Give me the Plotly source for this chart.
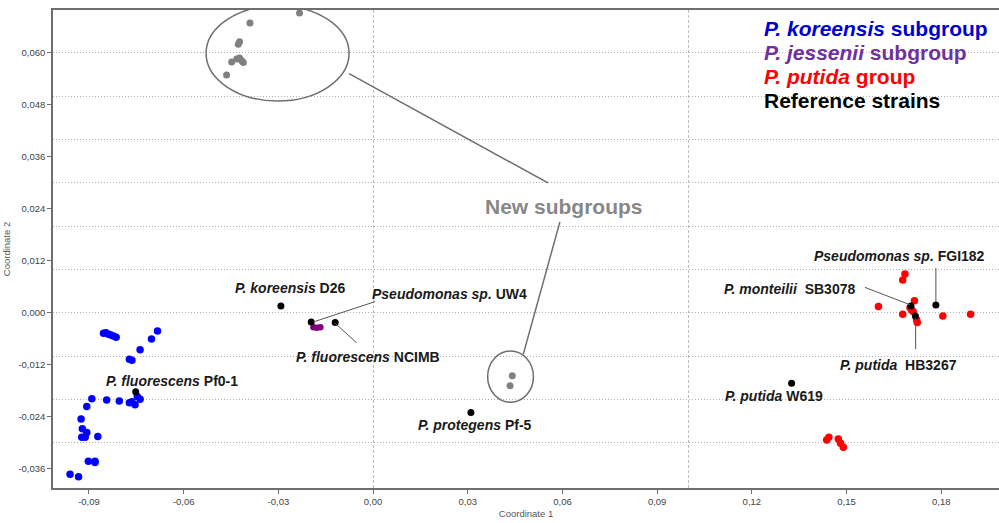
import plotly.graph_objects as go

# ---- PCoA coordinates (Coordinate 1, Coordinate 2) ----
koreensis_x = [-0.0854, -0.0846, -0.0838, -0.0831, -0.0823, -0.0814, -0.0683, -0.0702,
               -0.0738, -0.0772, -0.0764, -0.0891, -0.0844, -0.0804, -0.0772, -0.0754,
               -0.0747, -0.0738, -0.0764, -0.0907, -0.0925, -0.0921, -0.0907, -0.0923,
               -0.0912, -0.0872, -0.0902, -0.0881, -0.0881, -0.0960, -0.0933]
koreensis_y = [-0.0047, -0.0046, -0.0049, -0.0051, -0.0053, -0.0056, -0.0042, -0.0060,
               -0.0085, -0.0107, -0.0109, -0.0198, -0.0201, -0.0203, -0.0207, -0.0212,
               -0.0193, -0.0199, -0.0205, -0.0216, -0.0245, -0.0267, -0.0276, -0.0287,
               -0.0287, -0.0285, -0.0342, -0.0342, -0.0345, -0.0372, -0.0378]

jessenii_x = [-0.0189, -0.0178, -0.0167]
jessenii_y = [-0.0033, -0.0034, -0.0033]

putida_x = [0.1685, 0.1678, 0.1601, 0.1715, 0.1701, 0.1706, 0.1711, 0.1678, 0.1722,
            0.1724, 0.1805, 0.1893, 0.1437, 0.1444, 0.1474, 0.1481, 0.1490]
putida_y = [0.0090, 0.0076, 0.0015, 0.0028, 0.0012, 0.0007, 0.0003, -0.0003, -0.0016,
            -0.0022, -0.0007, -0.0003, -0.0293, -0.0287, -0.0291, -0.0301, -0.0310]

new_x = [-0.0233, -0.0390, -0.0423, -0.0427, -0.0432, -0.0423, -0.0416, -0.0411,
         -0.0448, -0.0464, 0.0441, 0.0434]
new_y = [0.0692, 0.0669, 0.0626, 0.0620, 0.0586, 0.0588, 0.0582, 0.0578,
         0.0579, 0.0549, -0.0145, -0.0168]

ref_names = ["D26", "UW4", "NCIMB", "Pf0-1", "Pf-5", "W619", "SB3078", "HB3267", "FGI182"]
ref_x = [-0.0292, -0.0196, -0.0120, -0.0752, 0.0310, 0.1326, 0.1704, 0.1718, 0.1783]
ref_y = [0.0016, -0.0021, -0.0022, -0.0182, -0.0230, -0.0162, 0.0016, -0.0007, 0.0018]

# strain labels: species (italic), separator, strain id, label position
label_species = ["P. koreensis", "Pseudomonas sp.", "P. fluorescens", "P. fluorescens",
                 "P. protegens", "P. putida", "P. monteilii", "P. putida",
                 "Pseudomonas sp."]
label_gap = [" ", " ", " ", " ", " ", " ", "\u00a0 ", "\u00a0 ", " "]
label_strain = ["D26", "UW4", "NCIMB", "Pf0-1", "Pf-5", "W619", "SB3078", "HB3267", "FGI182"]
label_x = [-0.0444, -0.0010, -0.0251, -0.0853, 0.0135, 0.1108, 0.1104, 0.1472, 0.1389]
label_y = [0.0058, 0.0044, -0.0101, -0.0156, -0.0259, -0.0192, 0.0055, -0.0120, 0.0132]

# leader lines from labels to points: (x0, y0, x1, y1)
leaders = [
    (0.0006, 0.0026, -0.0190, -0.0021),   # UW4
    (-0.0120, -0.0024, -0.0052, -0.0069), # NCIMB
    (0.1558, 0.0059, 0.1701, 0.0019),     # SB3078
    (0.1719, -0.0012, 0.1719, -0.0084),   # HB3267
    (0.1783, 0.0104, 0.1783, 0.0025),     # FGI182
]

x_ticks = [-0.09, -0.06, -0.03, 0.00, 0.03, 0.06, 0.09, 0.12, 0.15, 0.18]
x_ticktext = ["-0,09", "-0,06", "-0,03", "0,00", "0,03", "0,06", "0,09", "0,12", "0,15", "0,18"]
y_ticks = [-0.036, -0.024, -0.012, 0.000, 0.012, 0.024, 0.036, 0.048, 0.060]
y_ticktext = ["-0,036", "-0,024", "-0,012", "0,000", "0,012", "0,024", "0,036", "0,048", "0,060"]
y_grid = [-0.03, -0.02, -0.01, 0.0, 0.01, 0.02, 0.03, 0.04, 0.05, 0.06]
x_grid = [0.0, 0.1]

legend_items = [
    ("<i>P. koreensis</i> subgroup", "#0000CC"),
    ("<i>P. jessenii</i> subgroup", "#7030A0"),
    ("<i>P. putida</i> group", "#FF0000"),
    ("Reference strains", "#000000"),
]

FONT = "Liberation Sans, Arial, sans-serif"

fig = go.Figure()

def dots(x, y, color, size):
    fig.add_trace(go.Scatter(x=x, y=y, mode="markers",
                             marker=dict(color=color, size=size, line=dict(width=0)),
                             showlegend=False, hoverinfo="x+y"))

dots(koreensis_x, koreensis_y, "#0000FF", 7.5)
dots(jessenii_x, jessenii_y, "#800080", 6.5)
dots(putida_x, putida_y, "#FF0000", 7.5)
dots(new_x, new_y, "#808080", 7)
dots(ref_x, ref_y, "#000000", 7)

annotations = []
for sp, gap, st, lx, ly in zip(label_species, label_gap, label_strain, label_x, label_y):
    annotations.append(dict(
        x=lx, y=ly, xref="x", yref="y", xanchor="left", yanchor="middle",
        text=f"<b><i>{sp}</i>{gap}{st}</b>",
        showarrow=False, font=dict(family=FONT, size=14, color="#1a1a1a")))

annotations.append(dict(
    x=0.0348, y=0.0245, xref="x", yref="y", xanchor="left", yanchor="middle",
    text="<b>New subgroups</b>", showarrow=False,
    font=dict(family=FONT, size=21, color="#878787")))

legend_y = [0.9603, 0.9121, 0.8619, 0.8117]
for (txt, col), py in zip(legend_items, legend_y):
    annotations.append(dict(
        x=0.7495, y=py, xref="paper", yref="paper", xanchor="left", yanchor="middle",
        text=f"<b>{txt}</b>", showarrow=False,
        font=dict(family=FONT, size=21, color=col)))

shapes = []
for x0, y0, x1, y1 in leaders:
    shapes.append(dict(type="line", xref="x", yref="y", x0=x0, y0=y0, x1=x1, y1=y1,
                       line=dict(color="#555555", width=1)))

# ellipses around the two new subgroups and their connectors to the caption
shapes.append(dict(type="circle", xref="x", yref="y", x0=-0.0529, x1=-0.0076,
                   y0=0.0489, y1=0.0709, line=dict(color="#6e6e6e", width=1.5)))
shapes.append(dict(type="circle", xref="x", yref="y", x0=0.0363, x1=0.0508,
                   y0=-0.0206, y1=-0.0088, line=dict(color="#6e6e6e", width=1.5)))
shapes.append(dict(type="line", xref="x", yref="y", x0=-0.0076, y0=0.0552, x1=0.0554, y1=0.0300,
                   line=dict(color="#6e6e6e", width=1.5)))
shapes.append(dict(type="line", xref="x", yref="y", x0=0.0592, y0=0.0210, x1=0.0476, y1=-0.0095,
                   line=dict(color="#6e6e6e", width=1.5)))

fig.update_layout(
    width=999, height=523,
    margin=dict(l=53, r=0, t=10, b=35),
    paper_bgcolor="white", plot_bgcolor="white",
    font=dict(family=FONT),
    annotations=annotations, shapes=shapes,
    xaxis=dict(
        range=[-0.1014, 0.1983], tickmode="array", tickvals=x_ticks, ticktext=x_ticktext,
        showgrid=False, zeroline=False, showline=True, linecolor="#6e6e6e", linewidth=1.5,
        mirror=True, ticks="outside", ticklen=4, tickcolor="#6e6e6e",
        tickfont=dict(size=9.5, color="#444444"),
        title=dict(text="Coordinate 1", font=dict(size=9.5, color="#555555"), standoff=4),
        minor=dict(tickmode="array", tickvals=x_grid, showgrid=True, griddash="3px,2px",
                   gridcolor="#bdbdbd", gridwidth=1, ticklen=0),
    ),
    yaxis=dict(
        range=[-0.0404, 0.0699], tickmode="array", tickvals=y_ticks, ticktext=y_ticktext,
        showgrid=False, zeroline=False, showline=True, linecolor="#6e6e6e", linewidth=1.5,
        ticks="outside", ticklen=4, tickcolor="#6e6e6e",
        tickfont=dict(size=9.5, color="#444444"),
        title=dict(text="Coordinate 2", font=dict(size=9.5, color="#555555"), standoff=6),
        minor=dict(tickmode="array", tickvals=y_grid, showgrid=True, griddash="1px,2px",
                   gridcolor="#b0b0b0", gridwidth=1, ticklen=0),
    ),
)

fig.write_html("out.html")
